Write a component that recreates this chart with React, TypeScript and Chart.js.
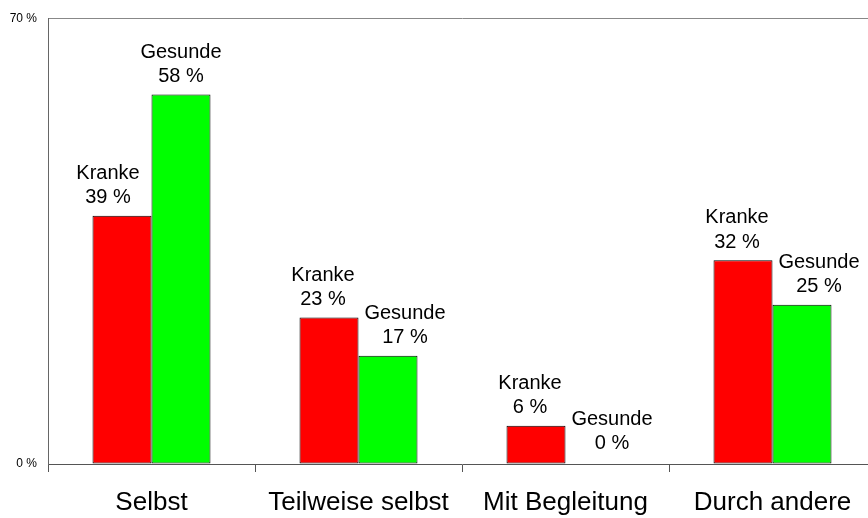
import React, { useEffect, useRef } from "react";
import { Chart, registerables } from "chart.js";

Chart.register(...registerables);

const categories = ["Selbst", "Teilweise selbst", "Mit Begleitung", "Durch andere"];
const seriesNames = ["Kranke", "Gesunde"];
const kranke = [39, 23, 6, 32];
const gesunde = [58, 17, 0, 25];
const yTicks = [0, 70];

// label horizontal nudges (style only)
const labelShift = [
  [-14, -6, -6, -6],
  [0, 17, 17, 17],
];

const FONT = "'Liberation Sans', Arial, sans-serif";

const labelPlugin = {
  id: "barLabels",
  afterDatasetsDraw(chart: any) {
    const ctx = chart.ctx;
    ctx.save();
    ctx.font = `20px ${FONT}`;
    ctx.fillStyle = "#000";
    ctx.textAlign = "center";
    ctx.textBaseline = "alphabetic";
    chart.data.datasets.forEach((ds: any, di: number) => {
      const meta = chart.getDatasetMeta(di);
      meta.data.forEach((el: any, i: number) => {
        const x = el.x + labelShift[di][i];
        const top = el.y;
        const gap = ds.data[i] === 0 ? 14.7 : 12.7;
        ctx.fillText(`${ds.data[i]} %`, x, top - gap);
        ctx.fillText(ds.label, x, top - gap - 24.3);
      });
    });
    ctx.restore();
  },
};

export default function App() {
  const ref = useRef<HTMLCanvasElement>(null);
  useEffect(() => {
    document.body.style.margin = "0";
    const chart = new Chart(ref.current as HTMLCanvasElement, {
      type: "bar",
      data: {
        labels: categories,
        datasets: [
          {
            label: seriesNames[0],
            data: kranke,
            backgroundColor: "#FF0000",
            borderColor: "#000",
            borderWidth: 1,
            borderSkipped: false,
          },
          {
            label: seriesNames[1],
            data: gesunde,
            backgroundColor: "#00FF00",
            borderColor: "#000",
            borderWidth: 1,
            borderSkipped: false,
          },
        ],
      },
      options: {
        responsive: false,
        animation: false,
        layout: { padding: { top: 17, left: 0, right: 0, bottom: 0 } },
        datasets: { bar: { barPercentage: 1, categoryPercentage: 0.57 } },
        plugins: { legend: { display: false }, tooltip: { enabled: false } },
        scales: {
          x: {
            offset: true,
            grid: {
              offset: true,
              drawOnChartArea: false,
              drawTicks: true,
              tickLength: 8,
              color: "#555",
            },
            border: { display: true, color: "#555" },
            ticks: {
              color: "#000",
              font: { size: 26, family: FONT },
              padding: 15,
              maxRotation: 0,
              autoSkip: false,
            },
            afterFit(axis: any) {
              axis.height = 54;
            },
          },
          y: {
            min: 0,
            max: 70,
            afterBuildTicks(axis: any) {
              axis.ticks = yTicks.map((v) => ({ value: v }));
            },
            grid: {
              drawTicks: false,
              color: (c: any) => (c.tick && c.tick.value === 70 ? "#888" : "transparent"),
            },
            border: { display: true, color: "#666" },
            ticks: {
              color: "#000",
              font: { size: 12, family: FONT },
              padding: 11,
              callback: (v: any) => `${v} %`,
            },
            afterFit(axis: any) {
              axis.width = 48;
            },
          },
        },
      },
      plugins: [labelPlugin],
    });
    return () => chart.destroy();
  }, []);
  return (
    <div style={{ position: "fixed", left: 0, top: 0, width: 868, height: 518, overflow: "hidden", background: "#fff" }}>
      <canvas ref={ref} width={876} height={518} style={{ display: "block", width: 876, height: 518 }} />
    </div>
  );
}
